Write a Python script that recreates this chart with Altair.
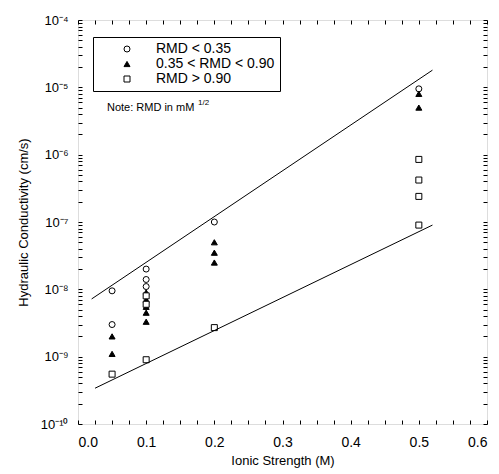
import altair as alt
import pandas as pd

# ---- data ----
groups = ["RMD < 0.35", "0.35 < RMD < 0.90", "RMD > 0.90"]

circ_x = [0.05, 0.05, 0.1, 0.1, 0.1, 0.2, 0.5]
circ_y = [9.5e-9, 3e-9, 2e-8, 1.4e-8, 1.1e-8, 1.0e-7, 9.5e-6]

tri_x = [0.05, 0.05, 0.1, 0.1, 0.1, 0.1, 0.1, 0.2, 0.2, 0.2, 0.5, 0.5]
tri_y = [2e-9, 1.1e-9, 9e-9, 7e-9, 5.5e-9, 4.5e-9, 3.3e-9, 5e-8, 3.5e-8, 2.5e-8, 8e-6, 5e-6]

sq_x = [0.05, 0.1, 0.1, 0.1, 0.2, 0.5, 0.5, 0.5, 0.5]
sq_y = [5.5e-10, 8e-9, 6e-9, 9e-10, 2.7e-9, 8.5e-7, 4.2e-7, 2.4e-7, 9e-8]

upper_x = [0.02, 0.52]
upper_y = [7.2e-9, 1.8e-5]
lower_x = [0.025, 0.52]
lower_y = [3.4e-10, 9e-8]

x_ticks = [0.0, 0.025, 0.05, 0.075, 0.1, 0.125, 0.15, 0.175, 0.2, 0.225, 0.25, 0.275,
           0.3, 0.325, 0.35, 0.375, 0.4, 0.425, 0.45, 0.475, 0.5, 0.525, 0.55, 0.575, 0.6]
y_decades = [-10, -9, -8, -7, -6, -5, -4]

note_text = "Note:  RMD in mM"
note_sup = "1/2"
note_x = [0.0425]
note_y = [5.0e-6]

# ---- build tables ----
pts = pd.DataFrame({
    "x": circ_x + tri_x + sq_x,
    "y": circ_y + tri_y + sq_y,
    "group": [groups[0]] * len(circ_x) + [groups[1]] * len(tri_x) + [groups[2]] * len(sq_x),
})
lines = pd.DataFrame({
    "x": upper_x + lower_x,
    "y": upper_y + lower_y,
    "line": ["upper"] * 2 + ["lower"] * 2,
})
note = pd.DataFrame({"x": note_x, "y": note_y, "t": [note_text], "s": [note_sup]})

sup = {"-": "⁻", "0": "⁰", "1": "¹", "2": "²", "3": "³", "4": "⁴", "5": "⁵",
       "6": "⁶", "7": "⁷", "8": "⁸", "9": "⁹"}
def supstr(n):
    return "".join(sup[c] for c in str(n))

y_values = []
for e in y_decades:
    for k in range(1, 10):
        if e == -4 and k > 1:
            break
        y_values.append(float(f"{k}e{e}"))

yexpr = "''"
for e in y_decades:
    yexpr = f"abs(datum.value - 1e{e}) < 1e{e - 3} ? '10{supstr(e)}' : " + yexpr
xexpr = "abs(datum.value*10 - round(datum.value*10)) < 1e-6 ? format(datum.value, '.1f') : ''"

FONT = "Liberation Sans"
TS = 4

xs = alt.Scale(domain=[0, 0.6], nice=False, zero=False)
ys = alt.Scale(type="log", domain=[1e-10, 1e-4], nice=False)

common = dict(grid=False, domain=False, tickColor="black", labelColor="black", titleColor="black",
              labelFont=FONT, titleFont=FONT, titleFontWeight="normal", tickSize=TS, offset=-TS)

xax = alt.Axis(values=x_ticks, labelExpr=xexpr, title="Ionic Strength (M)",
               labelFontSize=14, titleFontSize=13, labelPadding=11, titlePadding=5, **common)
yax = alt.Axis(values=y_values, labelExpr=yexpr, title="Hydraulic Conductivity (cm/s)",
               labelFontSize=13, titleFontSize=13, labelPadding=10, titlePadding=10, **common)
xax_top = alt.Axis(orient="top", values=x_ticks, labels=False, title=None, **common)
yax_right = alt.Axis(orient="right", values=y_values, labels=False, title=None, **common)

legend = alt.Legend(orient="none", legendX=15, legendY=17, title=None,
                    strokeColor="black", fillColor="white", padding=5,
                    labelFontSize=14, labelFont=FONT, labelColor="black",
                    symbolSize=36, symbolStrokeWidth=1,
                    rowPadding=1, labelOffset=22, symbolOffset=22)

points = alt.Chart(pts).mark_point(filled=True, strokeWidth=1, size=36, opacity=1).encode(
    x=alt.X("x:Q", scale=xs, axis=xax),
    y=alt.Y("y:Q", scale=ys, axis=yax),
    shape=alt.Shape("group:N", scale=alt.Scale(domain=groups, range=["circle", "triangle-up", "square"]), legend=legend),
    fill=alt.Fill("group:N", scale=alt.Scale(domain=groups, range=["white", "black", "white"]), legend=legend),
    stroke=alt.Stroke("group:N", scale=alt.Scale(domain=groups, range=["black", "black", "black"]), legend=legend),
)

line_layer = alt.Chart(lines).mark_line(color="black", strokeWidth=1).encode(
    x=alt.X("x:Q", scale=xs, axis=xax_top),
    y=alt.Y("y:Q", scale=ys, axis=yax_right),
    detail="line:N",
)

note_layer = alt.Chart(note).mark_text(align="left", baseline="middle", fontSize=11, font=FONT, color="black").encode(
    x=alt.X("x:Q", scale=xs, axis=None), y=alt.Y("y:Q", scale=ys, axis=None), text="t:N")
note_sup_layer = alt.Chart(note).mark_text(align="left", baseline="middle", fontSize=8, font=FONT, color="black",
                                           dx=91, dy=-5).encode(
    x=alt.X("x:Q", scale=xs, axis=None), y=alt.Y("y:Q", scale=ys, axis=None), text="s:N")

chart = alt.layer(points, line_layer, note_layer, note_sup_layer).resolve_axis(
    x="independent", y="independent"
).properties(
    width=409, height=404,
    autosize=alt.AutoSizeParams(type="none"),
    padding={"left": 78, "top": 20, "right": 12, "bottom": 50},
).configure_view(stroke="black", strokeWidth=1.5).configure(background="white")

chart.save("out.html", embed_options={"renderer": "svg", "actions": False})
